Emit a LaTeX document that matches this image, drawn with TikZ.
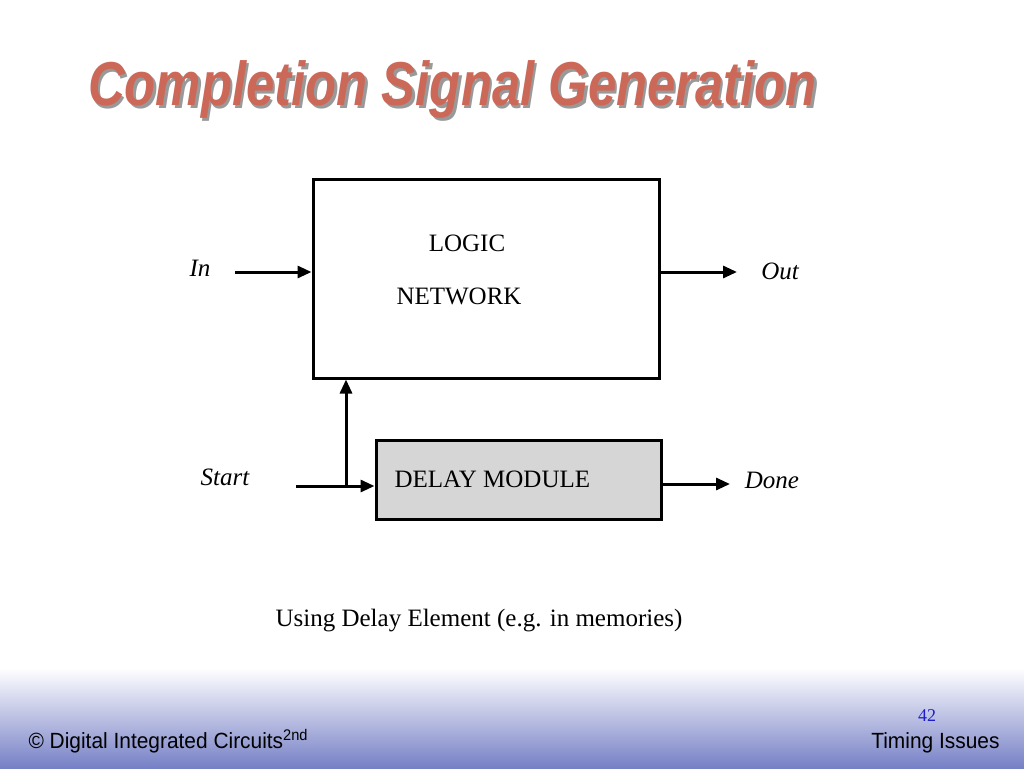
\documentclass[tikz,border=0pt]{standalone}
\usepackage{fontspec}
\setmainfont{Liberation Serif}
\newfontfamily\arialf{Liberation Sans}
\usetikzlibrary{arrows.meta}
\definecolor{titlered}{RGB}{204,104,88}
\definecolor{footblue}{RGB}{118,128,198}
\definecolor{numblue}{RGB}{30,30,200}
\begin{document}
\begin{tikzpicture}[x=1pt,y=-1pt,
  box/.style={draw=black,line width=3pt,inner sep=0pt},
  sig/.style={line width=3pt,-{Triangle[length=14pt,width=12pt]}},
  lab/.style={font=\fontsize{25}{28}\selectfont\itshape},
  txt/.style={font=\fontsize{25}{28}\selectfont}]
\useasboundingbox (0,0) rectangle (1024,768);
\fill[white] (0,0) rectangle (1024,768);
\shade[top color=white,bottom color=footblue] (0,668) rectangle (1024,768);
% title with shadow
\node[anchor=west,inner sep=0pt] (title) at (88,91) {\arialf\bfseries\itshape\fontsize{62}{70}\selectfont\scalebox{0.82}[1]{\rlap{\hspace{3pt}\raisebox{-3pt}{\color{black!40}Completion Signal Generation}}\color{titlered}Completion Signal Generation}};
% logic network
\node[box,minimum width=346pt,minimum height=199pt] (logic) at (486,278.5) {};
\node[txt] (l1) at (467,243) {LOGIC};
\node[txt] (l2) at (459,296) {NETWORK};
% delay module
\node[box,fill=black!16,minimum width=285pt,minimum height=79pt] (delay) at (518.5,479.5) {};
\node[txt,anchor=west] (d1) at (391,479) {DELAY MODULE};
% inputs/outputs
\coordinate (inS) at (235,272);
\coordinate (outE) at (737,272);
\coordinate (stS) at (296,486);
\coordinate (br) at (346,486);
\coordinate (dnE) at (730,484);
\draw[sig] (inS) -- (inS -| logic.west);
\draw[sig] (outE -| logic.east) -- (outE);
\draw[sig] (stS) -- (stS -| delay.west);
\draw[sig] (br) -- (br |- logic.south);
\draw[sig] (dnE -| delay.east) -- (dnE);
\node[lab] (inl) at (200,268) {In};
\node[lab] (outl) at (780,271) {Out};
\node[lab] (stl) at (225,477) {Start};
\node[lab] (dnl) at (772,480) {Done};
\node[txt] (cap) at (479,621) {Using Delay Element (e.g. in memories)};
% footer
\node[anchor=base west,font=\arialf\fontsize{22}{24}\selectfont] (foot1) at (25,748) {\scalebox{0.95}[1]{\textcopyright{} Digital Integrated Circuits\textsuperscript{2nd}}};
\node[anchor=base east,font=\arialf\fontsize{22}{24}\selectfont] (foot2) at (1003,748) {\scalebox{0.95}[1]{Timing Issues}};
\node[font=\fontsize{18}{20}\selectfont,text=numblue] (num) at (927,716) {42};
\end{tikzpicture}
\end{document}
